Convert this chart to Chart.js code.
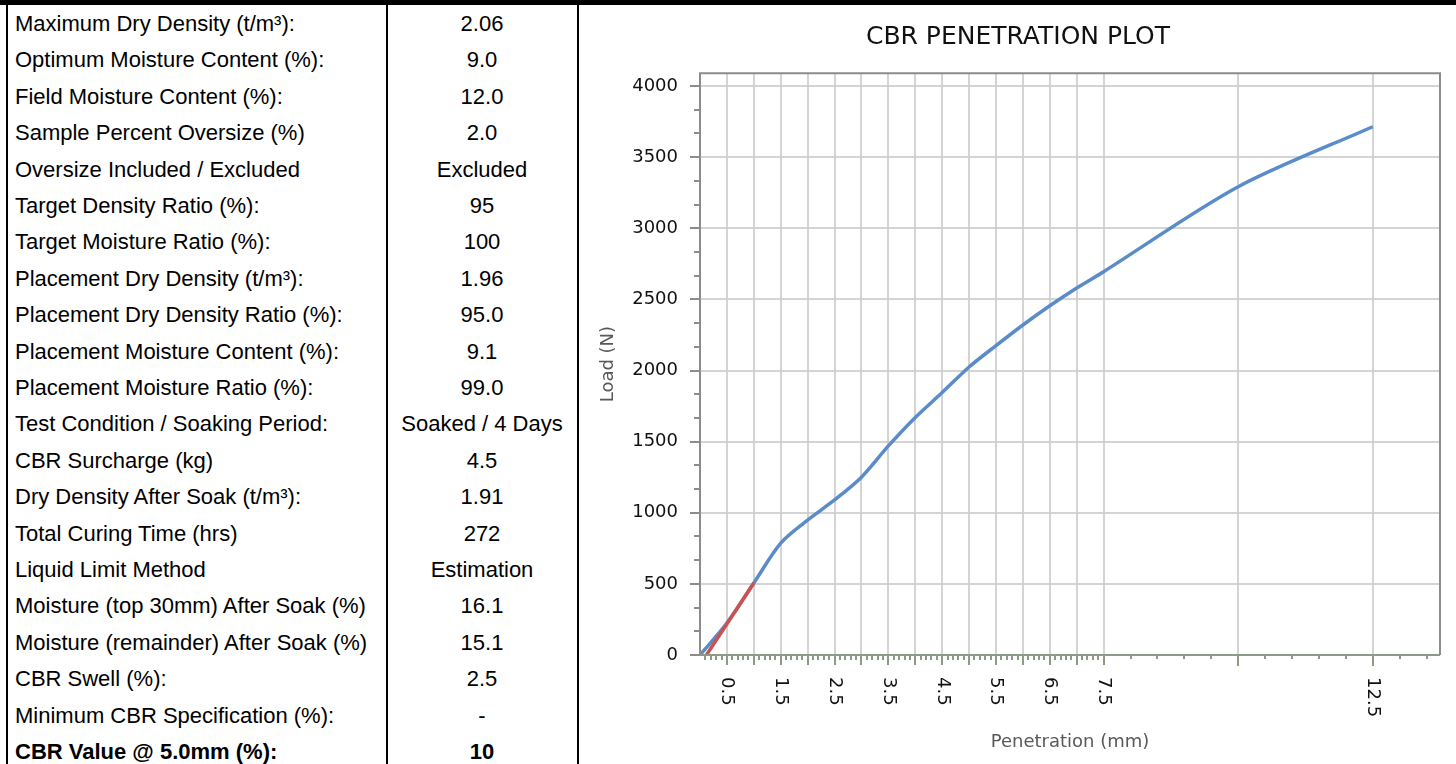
<!DOCTYPE html>
<html><head><meta charset="utf-8">
<script src="https://cdn.jsdelivr.net/npm/chart.js@4.4.1/dist/chart.umd.min.js"></script>
<style>
html,body{margin:0;padding:0;background:#fff;}
body{width:1456px;height:764px;position:relative;overflow:hidden;font-family:"Liberation Sans",Arial,sans-serif;}
.ln{position:absolute;background:#000;}
.lab{position:absolute;left:15px;font-size:22px;line-height:26px;color:#000;white-space:nowrap;}
.val{position:absolute;left:388px;width:188px;text-align:center;font-size:22px;line-height:26px;color:#000;white-space:nowrap;}
.b{font-weight:bold;}
#wrap{position:absolute;left:580px;top:0;width:876px;height:764px;}
</style></head><body>
<div id="table"></div>
<div id="wrap"><canvas id="c" width="876" height="764"></canvas></div>
<div class="ln" style="left:0;top:0;width:1456px;height:5px"></div>
<div class="ln" style="left:6px;top:0;width:2px;height:764px"></div>
<div class="ln" style="left:386px;top:0;width:2px;height:764px"></div>
<div class="ln" style="left:577px;top:0;width:2px;height:764px"></div>
<script>
// ---- table data ----
const propertyLabels = [
  "Maximum Dry Density (t/m³):",
  "Optimum Moisture Content (%):",
  "Field Moisture Content (%):",
  "Sample Percent Oversize  (%)",
  "Oversize Included / Excluded",
  "Target Density Ratio (%):",
  "Target Moisture Ratio (%):",
  "Placement Dry Density (t/m³):",
  "Placement Dry Density Ratio (%):",
  "Placement Moisture Content (%):",
  "Placement Moisture Ratio (%):",
  "Test Condition / Soaking Period:",
  "CBR Surcharge (kg)",
  "Dry Density After Soak (t/m³):",
  "Total Curing Time (hrs)",
  "Liquid Limit Method",
  "Moisture (top 30mm) After Soak (%)",
  "Moisture (remainder) After Soak (%)",
  "CBR Swell (%):",
  "Minimum CBR Specification (%):",
  "CBR Value @ 5.0mm (%):"
];
const propertyValues = [
  "2.06","9.0","12.0","2.0","Excluded","95","100","1.96","95.0","9.1","99.0",
  "Soaked / 4 Days","4.5","1.91","272","Estimation","16.1","15.1","2.5","-","10"
];

// ---- chart data ----
const penetration = [0, 0.5, 1.0, 1.5, 2.0, 2.5, 3.0, 3.5, 4.0, 4.5, 5.0, 5.5, 6.0, 6.5, 7.0, 7.5, 10.0, 12.5];
const load =        [0, 225, 506, 787, 949, 1090, 1250, 1470, 1670, 1845, 2025, 2175, 2320, 2455, 2580, 2695, 3292, 3714];
const correctionPenetration = [0.12, 1.0];
const correctionLoad = [0, 506];
const xGridValues = [0.5,1,1.5,2,2.5,3,3.5,4,4.5,5,5.5,6,6.5,7,7.5,10,12.5];
const xTickLabels = ["0.5","1.5","2.5","3.5","4.5","5.5","6.5","7.5","12.5"];
const yTickValues = [0,500,1000,1500,2000,2500,3000,3500,4000];

// build table
const tbl = document.getElementById('table');
propertyLabels.forEach((t,i)=>{
  const cy = 24 + i*36.4;
  const bold = i === propertyLabels.length-1 ? ' b' : '';
  const a = document.createElement('div'); a.className='lab'+bold; a.style.top=(cy-13)+'px'; a.textContent=t; tbl.appendChild(a);
  const v = document.createElement('div'); v.className='val'+bold; v.style.top=(cy-13)+'px'; v.textContent=propertyValues[i]; tbl.appendChild(v);
});

const FONT = '"DejaVu Sans", Verdana, sans-serif';
const decor = {
  id:'decor',
  afterDraw(chart){
    const {ctx, chartArea:a, scales:{x,y}} = chart;
    ctx.save();
    ctx.strokeStyle = '#8d9a86'; ctx.lineWidth = 2;
    for (let i=1;i<=75;i++){
      const v=i/10; const px=Math.round(x.getPixelForValue(v));
      const len = (i%5===0)?10:5;
      ctx.beginPath(); ctx.moveTo(px,a.bottom); ctx.lineTo(px,a.bottom+len); ctx.stroke();
    }
    for (let v=8; v<=13.5; v+=0.5){
      const px=Math.round(x.getPixelForValue(v));
      const len = (v===10||v===12.5)?11:4;
      ctx.beginPath(); ctx.moveTo(px,a.bottom); ctx.lineTo(px,a.bottom+len); ctx.stroke();
    }
    ctx.strokeStyle = '#8c8c8c';
    for (let i=0;i*500/3<=4000.1;i++){
      const v=i*500/3; const py=Math.round(y.getPixelForValue(v));
      const len=(i%3===0)?10:6;
      ctx.beginPath(); ctx.moveTo(a.left,py); ctx.lineTo(a.left-len,py); ctx.stroke();
    }
    ctx.strokeStyle = '#8c8c8c'; ctx.lineWidth=2;
    ctx.beginPath(); ctx.moveTo(a.left,a.bottom); ctx.lineTo(a.left,a.top); ctx.lineTo(a.right,a.top); ctx.lineTo(a.right,a.bottom); ctx.stroke();
    ctx.strokeStyle = '#8d9a86';
    ctx.beginPath(); ctx.moveTo(a.left,a.bottom); ctx.lineTo(a.right,a.bottom); ctx.stroke();
    ctx.fillStyle='#111'; ctx.font='18px '+FONT; ctx.textAlign='left'; ctx.textBaseline='middle';
    xTickLabels.forEach(t=>{
      const px=x.getPixelForValue(parseFloat(t));
      ctx.save(); ctx.translate(px, a.bottom+22); ctx.rotate(Math.PI/2); ctx.fillText(t,0,0); ctx.restore();
    });
    ctx.restore();
  }
};

new Chart(document.getElementById('c'), {
  type:'scatter',
  data:{datasets:[
    {label:'Correction', data: correctionPenetration.map((v,i)=>({x:v,y:correctionLoad[i]})), showLine:true, borderColor:'#cc5250', borderWidth:3.5, pointRadius:0, tension:0},
    {label:'Load', data: penetration.map((v,i)=>({x:v,y:load[i]})), showLine:true, borderColor:'#5b8cca', borderWidth:3.5, pointRadius:0, tension:0.3}
  ]},
  options:{
    responsive:false, animation:false, devicePixelRatio:1,
    layout:{padding:{left:16,right:16,top:0,bottom:0}},
    plugins:{
      legend:{display:false}, tooltip:{enabled:false},
      title:{display:true, text:'CBR PENETRATION PLOT', color:'#111', font:{family:FONT,size:25,weight:'normal',lineHeight:1.25}, padding:{top:22,bottom:20}}
    },
    scales:{
      x:{type:'linear', min:0, max:13.75,
        afterBuildTicks:s=>{s.ticks = xGridValues.map(v=>({value:v}));},
        afterFit:s=>{s.height=109;},
        ticks:{display:false},
        grid:{color:'rgba(205,205,205,0.85)', lineWidth:2, drawTicks:false},
        border:{display:false},
        title:{display:true, text:'Penetration (mm)', color:'#595959', font:{family:FONT,size:18}, padding:{top:0,bottom:11}}
      },
      y:{type:'linear', min:0, max:4090,
        afterBuildTicks:s=>{s.ticks = yTickValues.map(v=>({value:v}));},
        afterFit:s=>{s.width=104;},
        ticks:{color:'#111', font:{family:FONT,size:18}, padding:22, callback:v=>String(v)},
        grid:{color:'rgba(205,205,205,0.85)', lineWidth:2, drawTicks:false},
        border:{display:false},
        title:{display:true, text:'Load (N)', color:'#595959', font:{family:FONT,size:18}, padding:{top:2,bottom:0}}
      }
    }
  },
  plugins:[decor]
});
</script>
</body></html>
